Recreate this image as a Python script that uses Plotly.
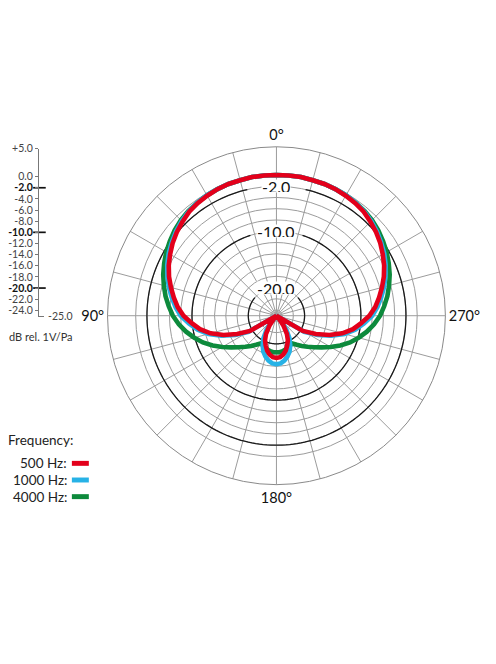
import numpy as np
import plotly.graph_objects as go

# polar response, dB relative to 1V/Pa, read every 5 degrees
angles = [0, 5, 10, 15, 20, 25, 30, 35, 40, 45, 50, 55, 60, 65, 70, 75, 80, 85,
          90, 95, 100, 105, 110, 115, 120, 125, 130, 135, 140, 145, 150, 155, 160, 165, 170, 175,
          180, 185, 190, 195, 200, 205, 210, 215, 220, 225, 230, 235, 240, 245, 250, 255, 260, 265,
          270, 275, 280, 285, 290, 295, 300, 305, 310, 315, 320, 325, 330, 335, 340, 345, 350, 355, 360]

db_500 = [0.0, 0.0, 0.0, -0.1, -0.1, -0.2, -0.4, -0.6, -0.9, -1.4, -1.9, -2.5, -3.2, -3.9, -4.7, -5.6, -6.5, -7.4,
          -8.5, -9.9, -11.2, -12.9, -15.0, -17.3, -19.6, -25.0, -25.0, -25.0, -24.3, -22.8, -21.3, -20.2, -19.4, -18.6, -18.0, -17.6,
          -17.5, -17.6, -18.0, -18.6, -19.4, -20.2, -21.3, -22.8, -24.3, -25.0, -25.0, -25.0, -19.6, -17.3, -15.0, -12.9, -11.2, -9.9,
          -8.5, -7.4, -6.5, -5.6, -4.7, -3.9, -3.2, -2.5, -1.9, -1.4, -0.9, -0.6, -0.4, -0.2, -0.1, -0.1, 0.0, 0.0, 0.0]

db_1000 = [0.0, 0.0, 0.0, -0.1, -0.1, -0.2, -0.3, -0.5, -0.8, -1.2, -1.7, -2.3, -2.9, -3.6, -4.4, -5.2, -6.1, -7.0,
           -8.0, -9.4, -10.8, -12.5, -14.6, -16.9, -19.3, -25.0, -25.0, -25.0, -23.5, -21.9, -20.4, -19.2, -18.2, -17.5, -16.9, -16.5,
           -16.4, -16.5, -16.9, -17.5, -18.2, -19.2, -20.4, -21.9, -23.5, -25.0, -25.0, -25.0, -19.3, -16.9, -14.6, -12.5, -10.8, -9.4,
           -8.0, -7.0, -6.1, -5.2, -4.4, -3.6, -2.9, -2.3, -1.7, -1.2, -0.8, -0.5, -0.3, -0.2, -0.1, -0.1, 0.0, 0.0, 0.0]

db_4000 = [0.0, 0.0, 0.0, -0.1, -0.1, -0.2, -0.3, -0.5, -0.7, -1.0, -1.4, -1.9, -2.4, -3.0, -3.6, -4.3, -5.0, -5.8,
           -6.6, -7.6, -8.7, -9.9, -11.1, -12.5, -13.9, -15.2, -16.3, -17.2, -18.0, -18.7, -19.3, -19.2, -19.0, -18.8, -18.6, -18.5,
           -18.5, -18.5, -18.6, -18.8, -19.0, -19.2, -19.3, -18.7, -18.0, -17.2, -16.3, -15.2, -13.9, -12.5, -11.1, -9.9, -8.7, -7.6,
           -6.6, -5.8, -5.0, -4.3, -3.6, -3.0, -2.4, -1.9, -1.4, -1.0, -0.7, -0.5, -0.3, -0.2, -0.1, -0.1, 0.0, 0.0, 0.0]

series_names = ["500 Hz:", "1000 Hz:", "4000 Hz:"]
series_colors = ["#e3001b", "#27b2e6", "#0d8a3c"]

# scale values
scale_vals = [5, 0, -2, -4, -6, -8, -10, -12, -14, -16, -18, -20, -22, -24]
scale_bold = [-2, -10, -20]
ring_vals = [-24, -22, -20, -18, -16, -14, -12, -10, -8, -6, -4, -2, 0]
ring_gap = {-2: 13, -10: 18, -20: 50}   # half-gap (deg) around the top labels
r_min, r_max = -25, 5

# the page body keeps its default 8px margin, so the figure is 8px smaller
# and every position below is the reference pixel minus 8
OFF = 8
W, H = 496 - OFF, 664 - OFF
cx, cy, R = 276 - OFF, 312.5 - OFF, 170.5   # polar centre / radius in px
FONT = "Lato, Open Sans, sans-serif"


def px(x):
    return (x - OFF) / W


def py(y):
    return 1 - (y - OFF) / H


fig = go.Figure()

# black reference rings with a gap at the top for the label
for v, gap in ring_gap.items():
    th = np.linspace(gap, 360 - gap, 200)
    fig.add_trace(go.Scatterpolar(r=[v] * len(th), theta=th, mode="lines",
                                  line=dict(color="#1a1a1a", width=1.3),
                                  hoverinfo="skip", showlegend=False))

# curves, green under blue under red
for vals, name, col in [(db_4000, series_names[2], series_colors[2]),
                        (db_1000, series_names[1], series_colors[1]),
                        (db_500, series_names[0], series_colors[0])]:
    fig.add_trace(go.Scatterpolar(r=vals, theta=angles, mode="lines", name=name,
                                  line=dict(color=col, width=4.6),
                                  showlegend=False))

# left-hand dB scale
fig.add_trace(go.Scatter(x=[38.5] * len(scale_bold), y=scale_bold, mode="markers",
                         marker=dict(symbol="line-ew", size=9, color="#111",
                                     line=dict(color="#111", width=1.7)),
                         cliponaxis=False, hoverinfo="skip", showlegend=False,
                         xaxis="x", yaxis="y"))

tick_text = []
for v in scale_vals:
    s = ("+%.1f" % v) if v > 0 else ("%.1f" % v)
    if v in scale_bold:
        s = "<b><span style='color:#111'>%s</span></b>" % s
    tick_text.append(s)

dom_x = [(cx - R) / W, (cx + R) / W]
dom_y = [1 - (cy + R) / H, 1 - (cy - R) / H]

fig.update_layout(
    width=W, height=H,
    margin=dict(l=0, r=0, t=0, b=0),
    paper_bgcolor="white", plot_bgcolor="white",
    font=dict(family=FONT, color="#333"),
    polar=dict(
        domain=dict(x=dom_x, y=dom_y),
        bgcolor="white",
        radialaxis=dict(range=[r_min, r_max], tickvals=ring_vals, showticklabels=False,
                        ticks="", showline=False, gridcolor="#9c9c9c", gridwidth=0.7,
                        layer="below traces"),
        angularaxis=dict(rotation=90, direction="counterclockwise",
                         tickvals=list(range(0, 360, 15)),
                         ticktext=[{0: "0°", 90: "90°", 180: "180°", 270: "270°"}.get(a, "")
                                   for a in range(0, 360, 15)],
                         tickfont=dict(size=14.5, color="#111"),
                         ticks="", showline=True, linecolor="#8a8a8a", linewidth=1,
                         gridcolor="#9c9c9c", gridwidth=0.7, layer="below traces"),
    ),
    xaxis=dict(domain=[px(37), px(43)], range=[37, 43], anchor="y",
               showline=True, linecolor="#777", linewidth=1, showgrid=False,
               zeroline=False, showticklabels=False, ticks=""),
    yaxis=dict(domain=[py(312.7), py(144)], range=[r_min, r_max],
               anchor="free", position=px(37), side="left",
               showline=True, linecolor="#777", linewidth=1,
               ticks="outside", ticklen=3, tickcolor="#777",
               tickvals=scale_vals, ticktext=tick_text,
               tickfont=dict(size=10.5, color="#444"),
               showgrid=False, zeroline=False),
)

# ring labels at the top of the polar
px_per_db = R / (r_max - r_min)
for v in ring_gap:
    ypx = cy - (v - r_min) * px_per_db
    fig.add_annotation(x=cx / W, y=1 - ypx / H, xref="paper", yref="paper",
                       xanchor="center", yanchor="middle",
                       text="%.1f" % v, showarrow=False, bgcolor="white",
                       borderpad=0, height=12, font=dict(size=16, color="#111"))

fig.add_annotation(x=px(45), y=-25, xref="paper", yref="y", xanchor="left", yanchor="middle",
                   text="-25.0", showarrow=False, font=dict(size=10.5, color="#444"))
fig.add_annotation(x=px(6), y=py(333), xref="paper", yref="paper", xanchor="left",
                   yanchor="middle", text="dB rel. 1V/Pa", showarrow=False,
                   font=dict(size=11, color="#333"))

# frequency key
fig.add_annotation(x=px(5), y=py(438), xref="paper", yref="paper", xanchor="left",
                   yanchor="middle", text="Frequency:", showarrow=False,
                   font=dict(size=13.5, color="#222"))
for i, (name, col) in enumerate(zip(series_names, series_colors)):
    yc = 461.5 + i * 16.8
    fig.add_annotation(x=px(68), y=py(yc), xref="paper", yref="paper", xanchor="right",
                       yanchor="middle", text=name, showarrow=False,
                       font=dict(size=13.5, color="#222"))
    fig.add_shape(type="rect", xref="paper", yref="paper",
                  x0=px(71), x1=px(88), y0=py(yc + 2.5), y1=py(yc - 2.5),
                  fillcolor=col, line=dict(width=0))

fig.write_html("out.html")
